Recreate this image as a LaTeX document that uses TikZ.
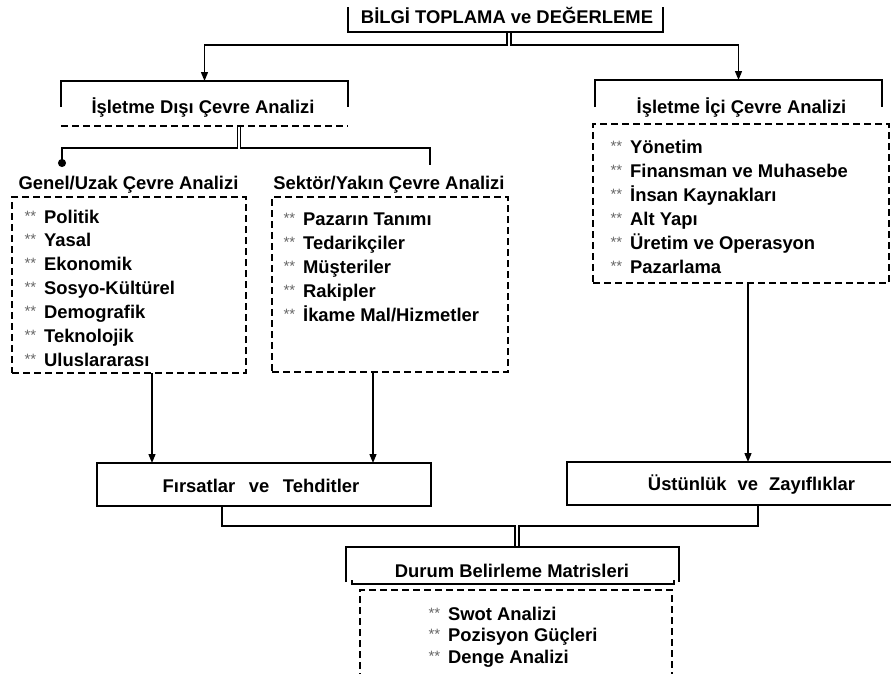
\documentclass[tikz,border=0pt]{standalone}
\usepackage{fontspec}
\setmainfont{Liberation Sans}
\usetikzlibrary{arrows.meta}
% small grey bullet stars in front of each list entry
\newcommand{\stars}{\makebox[19.5pt][l]{\raisebox{2pt}{\fontsize{15}{15}\selectfont\mdseries\color{black!60}**}}}

\begin{document}
\begin{tikzpicture}[x=1pt,y=-1pt,line width=1.3pt,
  frame/.style={rectangle,inner sep=0pt,outer sep=0pt,anchor=north west},
  solidbox/.style={frame,draw},
  dashbox/.style={frame,draw,dash pattern=on 7pt off 4pt},
  dashline/.style={dash pattern=on 7pt off 4pt},
  lbl/.style={inner sep=0pt,font=\fontsize{18.4}{22}\selectfont\bfseries},
  head/.style={lbl,anchor=base},
  item/.style={lbl,anchor=base west},
  arr/.style={-{Triangle[width=7pt,length=9pt]}},
  dotend/.style={-{Circle[length=8pt]}}]
\useasboundingbox (0,0) rectangle (891,673);

% ---- top: information gathering
\node[frame,minimum width=315pt,minimum height=25pt] (title) at (348,7) {};
\draw (title.north west) -- (title.south west) -- (title.south east) -- (title.north east);
\node[head] (titletxt) at (507,23) {BİLGİ TOPLAMA ve DEĞERLEME};

% ---- external environment header
\node[frame,minimum width=287pt,minimum height=45pt] (dis) at (61,81) {};
\draw ([yshift=-26pt]dis.north west) -- (dis.north west) -- (dis.north east) -- ([yshift=-26pt]dis.north east);
\draw[dashline] (dis.south west) -- (dis.south east);
\node[head] (distxt) at (203,113) {İşletme Dışı Çevre Analizi};

% ---- internal environment header and list
\node[frame,minimum width=287pt,minimum height=27pt] (icih) at (595,80) {};
\draw (icih.south west) -- (icih.north west) -- (icih.north east) -- (icih.south east);
\node[head] (icitxt) at (741.5,113) {İşletme İçi Çevre Analizi};
\node[dashbox,minimum width=296pt,minimum height=159pt] (icibox) at (593,124) {};
\foreach \t [count=\i] in {Yönetim,Finansman ve Muhasebe,İnsan Kaynakları,Alt Yapı,Üretim ve Operasyon,Pazarlama}
  \node[item] (ici\i) at (610,{153+24*(\i-1)}) {\stars\t};

% ---- general / remote environment
\node[head] (geneltxt) at (128.5,189) {Genel/Uzak Çevre Analizi};
\node[dashbox,minimum width=234pt,minimum height=176pt] (genel) at (12,197) {};
\foreach \t [count=\i] in {Politik,Yasal,Ekonomik,Sosyo-Kültürel,Demografik,Teknolojik,Uluslararası}
  \node[item] (gen\i) at (24,{223+23.9*(\i-1)}) {\stars\t};

% ---- sector / near environment
\node[head] (sektortxt) at (389,189) {Sektör/Yakın Çevre Analizi};
\node[dashbox,minimum width=236pt,minimum height=175pt] (sektor) at (272,197) {};
\foreach \t [count=\i] in {Pazarın Tanımı,Tedarikçiler,Müşteriler,Rakipler,İkame Mal/Hizmetler}
  \node[item] (sek\i) at (283,{225+24.2*(\i-1)}) {\stars\t};

% ---- results
\node[solidbox,minimum width=334pt,minimum height=43pt] (fbox) at (97,463) {};
\node[head] (ftxt) at (261,492) {Fırsatlar\hspace{13.6pt}ve\hspace{13.6pt}Tehditler};
\node[solidbox,minimum width=326pt,minimum height=43pt] (ubox) at (567,462) {};
\node[head] (utxt) at (751.5,490) {Üstünlük\hspace{11pt}ve\hspace{11pt}Zayıflıklar};

% ---- situation matrices
\node[frame,minimum width=333pt,minimum height=35pt] (durum) at (346,547) {};
\draw (durum.south west) -- (durum.north west) -- (durum.north east) -- (durum.south east);
\draw (352,580) -- (352,584) -- (674,584) -- (674,580);
\node[head] (durumtxt) at (512,577) {Durum Belirleme Matrisleri};
\node[frame,minimum width=312pt,minimum height=90pt] (mbox) at (360,590) {};
\draw[dashline] (mbox.south west) -- (mbox.north west) -- (mbox.north east) -- (mbox.south east);
\foreach \t [count=\i] in {Swot Analizi,Pozisyon Güçleri,Denge Analizi}
  \node[item] (mat\i) at (428,{620+21.5*(\i-1)}) {\stars\t};

% ---- connectors
\draw[arr] ([xshift=1.5pt]title.south) -- ++(0,13) -| (dis.north);
\draw[arr] ([xshift=5.5pt]title.south) -- ++(0,13) -| (icih.north);

\coordinate (gdot) at (62,167);
\coordinate (send) at (430,165);
\draw[dotend] ([xshift=33pt]dis.south) -- ++(0,22) -| (gdot);
\draw ([xshift=36pt]dis.south) -- ++(0,22) -| (send);

\draw[arr] ([xshift=23pt]genel.south) -- ([xshift=23pt]genel.south |- fbox.north);
\draw[arr] ([xshift=-17pt]sektor.south) -- ([xshift=-17pt]sektor.south |- fbox.north);
\draw[arr] ([xshift=7pt]icibox.south) -- ([xshift=7pt]icibox.south |- ubox.north);

\draw ([xshift=-42pt]fbox.south) -- ++(0,20) -| ([xshift=2.5pt]durum.north);
\draw ([xshift=28pt]ubox.south) -- ++(0,21) -| ([xshift=6.5pt]durum.north);
\end{tikzpicture}
\end{document}
